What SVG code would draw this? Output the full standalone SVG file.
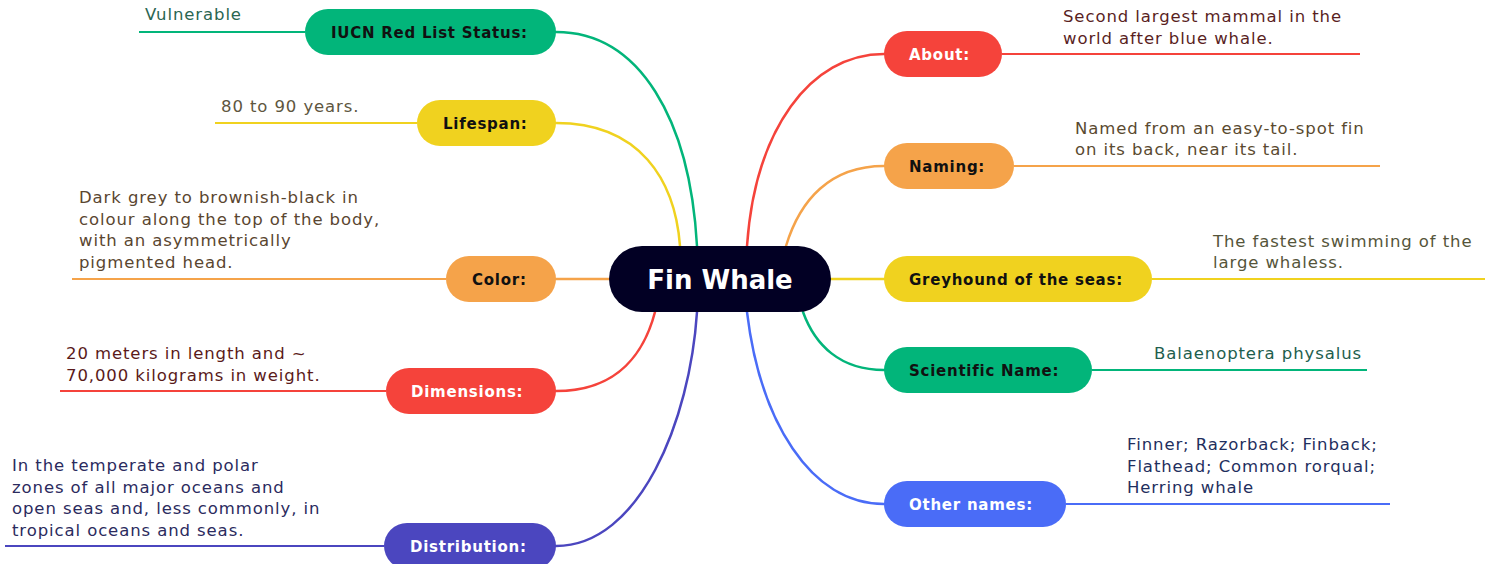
<svg xmlns="http://www.w3.org/2000/svg" width="1493" height="564" viewBox="0 0 1493 564">
<style>
.bg{fill:#ffffff}
.c{fill:none;stroke-width:2.5;stroke-linecap:round}
.l{fill:none;stroke-width:2}
.nt{font-family:"DejaVu Sans","Liberation Sans",sans-serif;font-weight:bold;font-size:15px;letter-spacing:0.75px}
.lt{font-family:"DejaVu Sans","Liberation Sans",sans-serif;font-size:16.5px;letter-spacing:0.9px}
.green{stroke:#02b57a}.yellow{stroke:#f0d21f}.orange{stroke:#f5a34a}.red{stroke:#f5433b}.purple{stroke:#4b46bf}.blue{stroke:#4a6cf7}
</style>
<rect class="bg" x="0" y="0" width="1493" height="564"/>
<g id="connectors">
<path class="c green" d="M556,32 C640,32 690,120 697,246"/>
<path class="c yellow" d="M556,123 C640,123 675,180 680,246"/>
<path class="c orange" d="M556,279 L609,279"/>
<path class="c red" d="M556,391 C620,391 645,350 655,312"/>
<path class="c purple" d="M556,546 C640,546 690,420 697,312"/>
<path class="c red" d="M747,246 C755,130 810,54 884,54"/>
<path class="c orange" d="M786,246 C800,200 830,166 884,166"/>
<path class="c yellow" d="M831,279 L884,279"/>
<path class="c green" d="M803,312 C815,345 840,370 884,370"/>
<path class="c blue" d="M747,312 C760,420 810,504 884,504"/>
<path class="l green" d="M139,32 H305"/>
<path class="l yellow" d="M215,123 H417"/>
<path class="l orange" d="M72,279 H446"/>
<path class="l red" d="M60,391 H386"/>
<path class="l purple" d="M5,546 H384"/>
<path class="l red" d="M1002,54 H1360"/>
<path class="l orange" d="M1014,166 H1380"/>
<path class="l yellow" d="M1152,279 H1485"/>
<path class="l green" d="M1092,370 H1367"/>
<path class="l blue" d="M1066,504 H1390"/>
</g>
<g id="center">
<rect x="609" y="246" width="222" height="66" rx="33" fill="#020024"/>
<text x="720" y="289" text-anchor="middle" font-family="DejaVu Sans, Liberation Sans, sans-serif" font-weight="bold" font-size="26" fill="#ffffff">Fin Whale</text>
</g>
<g id="iucn">
<rect x="305" y="9" width="251" height="46" rx="23" fill="#02b57a"/>
<text class="nt" x="331" y="37.5" fill="#111">IUCN Red List Status:</text>
<text class="lt" x="145" y="20" fill="#2b6652">Vulnerable</text>
</g>
<g id="lifespan">
<rect x="417" y="100" width="139" height="46" rx="23" fill="#f0d21f"/>
<text class="nt" x="443" y="128.5" fill="#111">Lifespan:</text>
<text class="lt" x="221" y="112" fill="#5e5640">80 to 90 years.</text>
</g>
<g id="color">
<rect x="446" y="256" width="110" height="46" rx="23" fill="#f5a34a"/>
<text class="nt" x="472" y="284.5" fill="#111">Color:</text>
<text class="lt" fill="#5a4630"><tspan x="79" y="203">Dark grey to brownish-black in</tspan><tspan x="79" y="224.5">colour along the top of the body,</tspan><tspan x="79" y="246">with an asymmetrically</tspan><tspan x="79" y="267.5">pigmented head.</tspan></text>
</g>
<g id="dimensions">
<rect x="386" y="368" width="170" height="46" rx="23" fill="#f5433b"/>
<text class="nt" x="411" y="396.5" fill="#ffffff">Dimensions:</text>
<text class="lt" fill="#5a1a1a"><tspan x="66" y="359">20 meters in length and ~</tspan><tspan x="66" y="380.5">70,000 kilograms in weight.</tspan></text>
</g>
<g id="distribution">
<rect x="384" y="523" width="172" height="46" rx="23" fill="#4b46bf"/>
<text class="nt" x="410" y="551.5" fill="#ffffff">Distribution:</text>
<text class="lt" fill="#2b2b5e"><tspan x="12" y="471">In the temperate and polar</tspan><tspan x="12" y="492.5">zones of all major oceans and</tspan><tspan x="12" y="514">open seas and, less commonly, in</tspan><tspan x="12" y="535.5">tropical oceans and seas.</tspan></text>
</g>
<g id="about">
<rect x="884" y="31" width="118" height="46" rx="23" fill="#f5433b"/>
<text class="nt" x="909" y="59.5" fill="#ffffff">About:</text>
<text class="lt" fill="#5a1f1f"><tspan x="1063" y="22">Second largest mammal in the</tspan><tspan x="1063" y="43.5">world after blue whale.</tspan></text>
</g>
<g id="naming">
<rect x="884" y="143" width="130" height="46" rx="23" fill="#f5a34a"/>
<text class="nt" x="909" y="171.5" fill="#111">Naming:</text>
<text class="lt" fill="#5a4a30"><tspan x="1075" y="133.5">Named from an easy-to-spot fin</tspan><tspan x="1075" y="155">on its back, near its tail.</tspan></text>
</g>
<g id="greyhound">
<rect x="884" y="256" width="268" height="46" rx="23" fill="#f0d21f"/>
<text class="nt" x="909" y="284.5" fill="#111">Greyhound of the seas:</text>
<text class="lt" fill="#55553a"><tspan x="1213" y="246.5">The fastest swimming of the</tspan><tspan x="1213" y="268">large whaless.</tspan></text>
</g>
<g id="scientific">
<rect x="884" y="347" width="208" height="46" rx="23" fill="#02b57a"/>
<text class="nt" x="909" y="375.5" fill="#111">Scientific Name:</text>
<text class="lt" x="1154" y="358.5" fill="#1e5e4e">Balaenoptera physalus</text>
</g>
<g id="othernames">
<rect x="884" y="481" width="182" height="46" rx="23" fill="#4a6cf7"/>
<text class="nt" x="909" y="509.5" fill="#ffffff">Other names:</text>
<text class="lt" fill="#1f2f5e"><tspan x="1127" y="450">Finner; Razorback; Finback;</tspan><tspan x="1127" y="471.5">Flathead; Common rorqual;</tspan><tspan x="1127" y="493">Herring whale</tspan></text>
</g>
</svg>
